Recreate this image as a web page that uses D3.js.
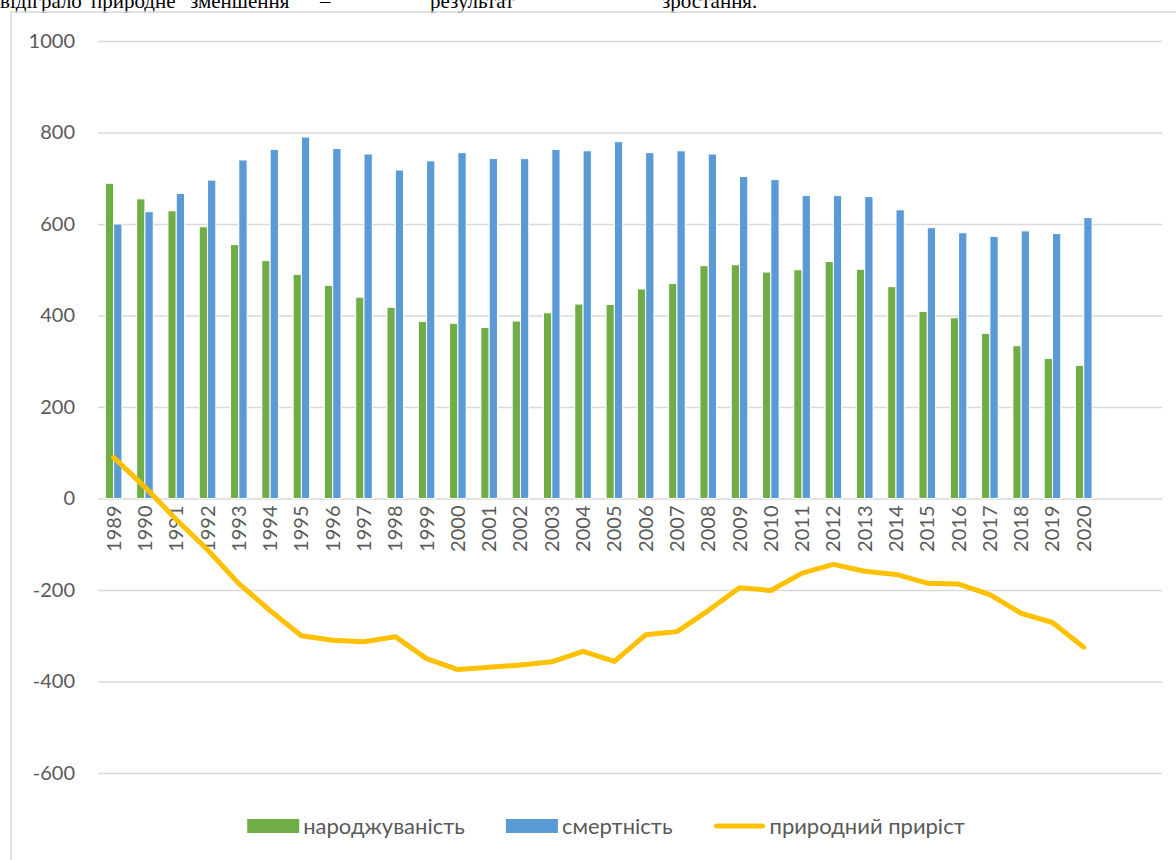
<!DOCTYPE html>
<html>
<head>
<meta charset="utf-8">
<script src="https://cdn.jsdelivr.net/npm/d3@7"></script>
<style>
    body { margin: 0; background: #fff; }
    svg { display: block; }
    .tick-label { font-family: Lato, "Noto Sans", sans-serif; font-size: 20px; fill: #595959; }
    .legend-label { font-family: Lato, "Noto Sans", sans-serif; font-size: 22px; fill: #595959; }
    .page-text { font-family: "Liberation Serif", "Times New Roman", serif; font-size: 21px; fill: #000; }
</style>
</head>
<body>
<div class="diagram"></div>
<script>
"use strict"

// chart data
const years = ["1989", "1990", "1991", "1992", "1993", "1994", "1995", "1996", "1997", "1998",
    "1999", "2000", "2001", "2002", "2003", "2004", "2005", "2006", "2007", "2008",
    "2009", "2010", "2011", "2012", "2013", "2014", "2015", "2016", "2017", "2018",
    "2019", "2020"]
// two empty slots after 2020 that excel keeps on the category axis
const emptySlots = ["", " "]

const births = [689, 655, 629, 594, 555, 520, 490, 466, 440, 418,
    387, 383, 374, 388, 406, 425, 424, 458, 470, 509,
    511, 495, 500, 518, 501, 463, 409, 395, 361, 334,
    306, 291]
const deaths = [600, 627, 667, 696, 740, 763, 790, 765, 753, 718,
    738, 756, 743, 743, 763, 760, 780, 756, 760, 753,
    704, 697, 662, 662, 660, 631, 592, 581, 573, 585,
    579, 614]
const naturalGrowth = [90, 25, -46, -112, -186, -245, -300, -310, -313, -302,
    -350, -374, -369, -364, -357, -334, -356, -298, -291, -245,
    -195, -201, -163, -144, -159, -166, -185, -187, -210, -251,
    -271, -325]

const yTicks = [-600, -400, -200, 0, 200, 400, 600, 800, 1000]
const seriesNames = ["народжуваність", "смертність", "природний приріст"]

// line of the document text cut off above the chart
const pageWords = ["відіграло", "природне", "зменшення", "–", "результат", "зростання."]
const pageWordX = [0, 91, 190, 320, 430, 662]

// layout
const WIDTH = 1176, HEIGHT = 860
const PLOT = { left: 98, right: 1162, top: 41, bottom: 773 }
const COLORS = { births: "#70AD47", deaths: "#5B9BD5", growth: "#FFC000", grid: "#D9D9D9" }

const svg = d3.select(".diagram").append("svg")
    .attr("width", WIDTH).attr("height", HEIGHT)

// scales
const xScale = d3.scaleBand().domain(years.concat(emptySlots))
    .range([PLOT.left, PLOT.right])
const xInner = d3.scaleBand().domain(["births", "deaths"]).range([-8.3, 8.3])
const yScale = d3.scaleLinear().domain([-600, 1000]).range([PLOT.bottom, PLOT.top])

const center = (year) => xScale(year) + xScale.bandwidth() / 2

// text of the page around the chart
svg.append("g").selectAll("text").data(pageWords).join("text")
    .attr("class", "page-text")
    .attr("x", (d, i) => pageWordX[i]).attr("y", 8)
    .text(d => d)

// chart area border (only left and top edges are inside the picture)
svg.append("path")
    .attr("d", "M11," + HEIGHT + "V12H" + WIDTH)
    .attr("fill", "none").attr("stroke", COLORS.grid).attr("stroke-width", 1.5)

// horizontal grid and y labels
const yAxis = d3.axisLeft(yScale).tickValues(yTicks)
    .tickSize(-(PLOT.right - PLOT.left)).tickPadding(23).tickFormat(d => String(d))
svg.append("g").attr("transform", "translate(" + PLOT.left + ",0)").call(yAxis)
    .call(g => g.select(".domain").remove())
    .call(g => g.selectAll(".tick line").attr("stroke", COLORS.grid).attr("stroke-width", 1.5))
    .call(g => g.selectAll(".tick text").attr("class", "tick-label").attr("font-family", null)
        .attr("font-size", null))

// bars
const barData = years.map((y, i) => ({ year: y, births: births[i], deaths: deaths[i] }))
const groups = svg.append("g").selectAll("g").data(barData).join("g")
    .attr("transform", d => "translate(" + center(d.year) + ",0)")

groups.selectAll("rect").data(d => ["births", "deaths"].map(k => ({ key: k, value: d[k] })))
    .join("rect")
    .attr("x", d => xInner(d.key))
    .attr("width", xInner.bandwidth())
    .attr("y", d => yScale(d.value))
    .attr("height", d => yScale(0) - yScale(d.value))
    .attr("fill", d => COLORS[d.key])
    .attr("stroke", "#fff").attr("stroke-width", 1)

// category labels, rotated
svg.append("g").selectAll("text").data(years).join("text")
    .attr("class", "tick-label")
    .attr("transform", d => "translate(" + center(d) + "," + (yScale(0) + 7) + ") rotate(-90)")
    .attr("text-anchor", "end").attr("dy", "0.35em")
    .text(d => d)

// natural growth line
const lineGen = d3.line().x((d, i) => center(years[i])).y(d => yScale(d))
svg.append("path").attr("d", lineGen(naturalGrowth))
    .attr("fill", "none").attr("stroke", COLORS.growth).attr("stroke-width", 5)
    .attr("stroke-linejoin", "round").attr("stroke-linecap", "round")

// legend, centred under the plot
const legend = svg.append("g")
const legendY = 826
const swatchW = 52
const itemGap = 41
const items = legend.selectAll("g").data(seriesNames).join("g")
items.append("text").attr("class", "legend-label")
    .attr("x", swatchW + 4).attr("y", legendY).attr("dy", "0.35em")
    .text(d => d)
let cursor = 0
const offsets = []
items.each(function () {
    offsets.push(cursor)
    cursor += swatchW + 4 + d3.select(this).select("text").node().getComputedTextLength() + itemGap
})
cursor -= itemGap
const legendStart = 606 - cursor / 2
items.attr("transform", (d, i) => "translate(" + (legendStart + offsets[i]) + ",0)")
items.filter((d, i) => i < 2).append("rect")
    .attr("y", legendY - 7).attr("width", swatchW).attr("height", 14)
    .attr("fill", (d, i) => i === 0 ? COLORS.births : COLORS.deaths)
items.filter((d, i) => i === 2).append("line")
    .attr("x1", 3).attr("x2", swatchW - 3).attr("y1", legendY).attr("y2", legendY)
    .attr("stroke", COLORS.growth).attr("stroke-width", 5).attr("stroke-linecap", "round")
</script>
</body>
</html>
